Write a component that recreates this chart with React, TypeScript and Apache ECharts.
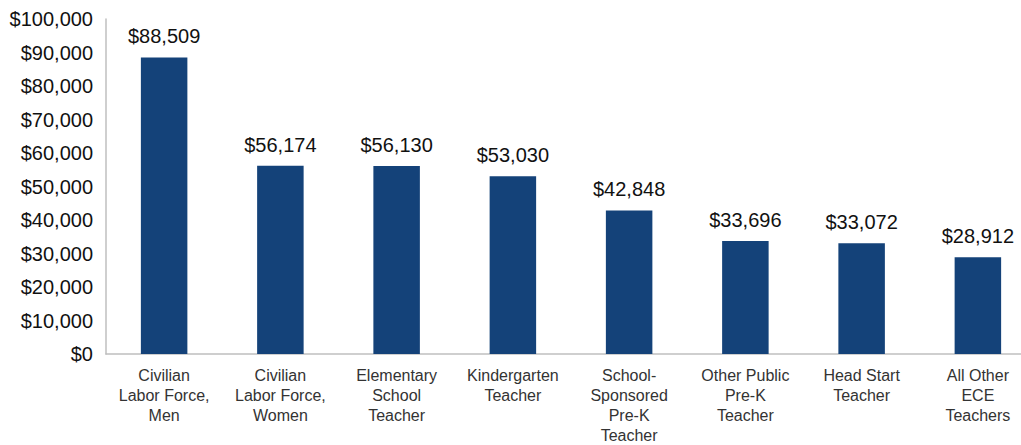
import React, { useEffect, useRef } from "react";
import * as echarts from "echarts";

const categories = [
  "Civilian\nLabor Force,\nMen",
  "Civilian\nLabor Force,\nWomen",
  "Elementary\nSchool\nTeacher",
  "Kindergarten\nTeacher",
  "School-\nSponsored\nPre-K\nTeacher",
  "Other Public\nPre-K\nTeacher",
  "Head Start\nTeacher",
  "All Other\nECE\nTeachers",
];
const values = [88509, 56174, 56130, 53030, 42848, 33696, 33072, 28912];

const fmt = (v: number) => "$" + v.toLocaleString("en-US");

export default function App() {
  const ref = useRef<HTMLDivElement>(null);
  useEffect(() => {
    if (!ref.current) return;
    const chart = echarts.init(ref.current, null, { renderer: "svg" });
    chart.setOption({
      animation: false,
      textStyle: { fontFamily: "Liberation Sans, Arial, sans-serif" },
      grid: { left: 106, right: 0, top: 19, bottom: 89, containLabel: false },
      xAxis: {
        type: "category",
        data: categories,
        axisLine: { show: true, lineStyle: { color: "#bfbfbf", width: 1.5 } },
        axisTick: { show: false },
        axisLabel: {
          interval: 0,
          color: "#333",
          fontSize: 16,
          lineHeight: 20,
          margin: 11,
          fontFamily: "Liberation Sans, Arial, sans-serif",
        },
      },
      yAxis: {
        type: "value",
        min: 0,
        max: 100000,
        interval: 10000,
        axisLine: { show: true, lineStyle: { color: "#bfbfbf", width: 1.5 } },
        axisTick: { show: false },
        splitLine: { show: false },
        axisLabel: {
          color: "#111",
          fontSize: 20,
          margin: 13,
          formatter: (v: number) => fmt(v),
          fontFamily: "Liberation Sans, Arial, sans-serif",
        },
      },
      series: [
        {
          type: "bar",
          data: values,
          barWidth: "40%",
          itemStyle: { color: "#144279" },
          label: {
            show: true,
            position: "top",
            distance: 11,
            color: "#111",
            fontSize: 20,
            formatter: (p: any) => fmt(p.value),
            fontFamily: "Liberation Sans, Arial, sans-serif",
          },
        },
      ],
    });
    return () => chart.dispose();
  }, []);
  return (
    <div style={{ width: 1021, height: 445, position: "absolute", left: 0, top: 0, overflow: "hidden" }}>
      <div ref={ref} style={{ width: 1036, height: 445 }} />
    </div>
  );
}
